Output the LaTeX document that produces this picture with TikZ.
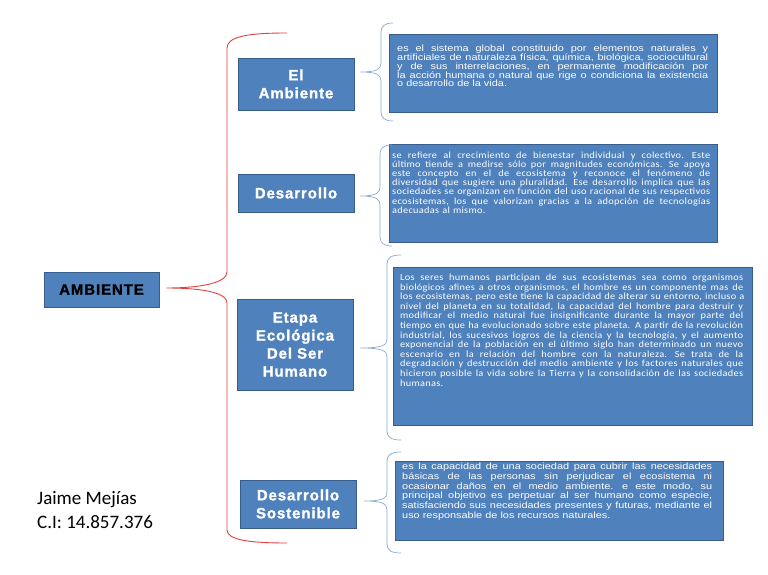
\documentclass[tikz,border=0pt]{standalone}
\usepackage{fontspec}
\setmainfont{Liberation Sans}
\newfontfamily\arialS[FakeStretch=1.2]{Liberation Sans}
\newfontfamily\caliB[FakeStretch=1.1,LetterSpace=3]{Carlito}
\newfontfamily\caliC[FakeStretch=1.1,LetterSpace=3]{Carlito}
\newfontfamily\headF[LetterSpace=6,BoldFeatures={FakeBold=1.3}]{Liberation Sans}
\newfontfamily\authF{Carlito}
\usetikzlibrary{calc}
\definecolor{boxblue}{RGB}{79,129,189}
\definecolor{boxline}{RGB}{56,93,138}
\definecolor{bracered}{RGB}{226,64,64}
\definecolor{braceblue}{RGB}{140,170,210}
\lineskiplimit=-20pt
\def\JLw#1 #2\JLend{#1\ifx\relax#2\relax\else\space\hfil\JLw#2\JLend\fi}
\newcommand\JL[1]{\leavevmode\hbox to\hsize{\JLw#1 \JLend}\\}
\newcommand\BlueBrace[6]{%
\draw[bluebr] (#6,#4) .. controls (#3+4,#4) and (#3,#4+3) .. (#3,#4+9) -- (#3,#2-9) .. controls (#3,#2-3) and (#3-4,#2) .. (#1) .. controls (#3-4,#2) and (#3,#2+3) .. (#3,#2+9) -- (#3,#5-9) .. controls (#3,#5-3) and (#3+4,#5) .. (#6,#5);}
\begin{document}
\begin{tikzpicture}[x=1pt,y=-1pt,
  head/.style={draw=boxline, fill=boxblue, line width=0.9pt, text=white,
    font=\headF\bfseries\fontsize{15}{18}\selectfont, align=center,
    minimum width=116pt, inner sep=0pt},
  descbox/.style={draw=boxline, fill=boxblue, line width=0.8pt, inner sep=0pt, anchor=north west},
  desctext/.style={anchor=base west, inner sep=0pt, text=white},
  redbr/.style={draw=bracered, line width=0.9pt},
  bluebr/.style={draw=braceblue, line width=0.7pt},
  author/.style={anchor=base west, inner sep=0pt, align=left, font=\authF\fontsize{19}{23.5}\selectfont}]
\fill[white] (0,0) rectangle (768,575);
\useasboundingbox (0,0) rectangle (768,575);

% main topic
\node[head, text=black, minimum width=115pt, minimum height=35pt] (amb) at (101.5,289.5) {AMBIENTE};

% headings
\node[head, minimum height=52pt] (h1) at (296,84) {El\\Ambiente};
\node[head, minimum height=38pt] (h2) at (296,193) {Desarrollo};
\node[head, minimum height=91pt] (h3) at (295,344.5) {Etapa\\Ecológica\\Del Ser\\Humano};
\node[head, minimum height=48pt] (h4) at (298,504) {Desarrollo\\Sostenible};

% description boxes
\node[descbox, minimum width=328pt, minimum height=78pt] (d1) at (389,34) {};
\node[descbox, minimum width=328pt, minimum height=98pt] (d2) at (388.5,144) {};
\node[descbox, minimum width=359pt, minimum height=158pt] (d3) at (393,267) {};
\node[descbox, minimum width=328pt, minimum height=79pt] (d4) at (395,461) {};

\node[desctext, text width=311pt, font=\arialS\fontsize{9.1}{8.75}\selectfont] (t1) at ($(d1.north west)+(8,18)$) {%
\JL{es el sistema global constituido por elementos naturales y}
\JL{artificiales de naturaleza física, química, biológica, sociocultural}
\JL{y de sus interrelaciones, en permanente modificación por}
\JL{la acción humana o natural que rige o condiciona la existencia}
o desarrollo de la vida.};

\node[desctext, text width=318pt, font=\caliB\fontsize{9.4}{9.2}\selectfont] (t2) at ($(d2.north west)+(3.5,14)$) {%
\JL{se refiere al crecimiento de bienestar individual y colectivo. Este}
\JL{último tiende a medirse sólo por magnitudes económicas. Se apoya}
\JL{este concepto en el de ecosistema y reconoce el fenómeno de}
\JL{diversidad que sugiere una pluralidad. Ese desarrollo implica que las}
\JL{sociedades se organizan en función del uso racional de sus respectivos}
\JL{ecosistemas, los que valorizan gracias a la adopción de tecnologías}
adecuadas al mismo.};

\node[desctext, text width=343pt, font=\caliC\fontsize{9.4}{9.6}\selectfont] (t3) at ($(d3.north west)+(7,13.5)$) {%
\JL{Los seres humanos participan de sus ecosistemas sea como organismos}
\JL{biológicos afines a otros organismos, el hombre es un componente mas de}
\JL{los ecosistemas, pero este tiene la capacidad de alterar su entorno, incluso a}
\JL{nivel del planeta en su totalidad, la capacidad del hombre para destruir y}
\JL{modificar el medio natural fue insignificante durante la mayor parte del}
\JL{tiempo en que ha evolucionado sobre este planeta. A partir de la revolución}
\JL{industrial, los sucesivos logros de la ciencia y la tecnología, y el aumento}
\JL{exponencial de la población en el último siglo han determinado un nuevo}
\JL{escenario en la relación del hombre con la naturaleza. Se trata de la}
\JL{degradación y destrucción del medio ambiente y los factores naturales que}
\JL{hicieron posible la vida sobre la Tierra y la consolidación de las sociedades}
humanas.};

\node[desctext, text width=310pt, font=\arialS\fontsize{9.1}{9.8}\selectfont] (t4) at ($(d4.north west)+(7,8.5)$) {%
\JL{es la capacidad de una sociedad para cubrir las necesidades}
\JL{básicas de las personas sin perjudicar el ecosistema ni}
\JL{ocasionar daños en el medio ambiente. e este modo, su}
\JL{principal objetivo es perpetuar al ser humano como especie,}
\JL{satisfaciendo sus necesidades presentes y futuras, mediante el}
uso responsable de los recursos naturales.};

% author
\node[author] (auth) at (37,528) {Jaime Mejías\\C.I: 14.857.376};

% red brace from AMBIENTE to the headings
\coordinate (rtip) at ($(amb.east)+(7,-1.5)$);
\coordinate (rtop) at (287,33);
\coordinate (rbot) at (287,543);
\draw[redbr] (rtop) .. controls (250,33) and (227,36) .. (227,48) -- (227,272)
  .. controls (227,283) and (200,288) .. (rtip)
  .. controls (200,288) and (227,292) .. (227,303) -- (227,530)
  .. controls (227,540) and (250,543) .. (rbot);

% blue braces from headings to descriptions
\coordinate (b1) at ($(h1.east)+(6,-12)$);
\coordinate (b2) at ($(h2.east)+(6,3)$);
\coordinate (b3) at ($(h3.east)+(7,3.5)$);
\coordinate (b4) at ($(h4.east)+(8,-3)$);
\BlueBrace{b1}{72}{381}{23}{121}{393}
\BlueBrace{b2}{196}{380}{145}{246}{392}
\BlueBrace{b3}{348}{387}{255}{440}{401}
\BlueBrace{b4}{501}{387}{452}{553}{401}
\end{tikzpicture}
\end{document}
